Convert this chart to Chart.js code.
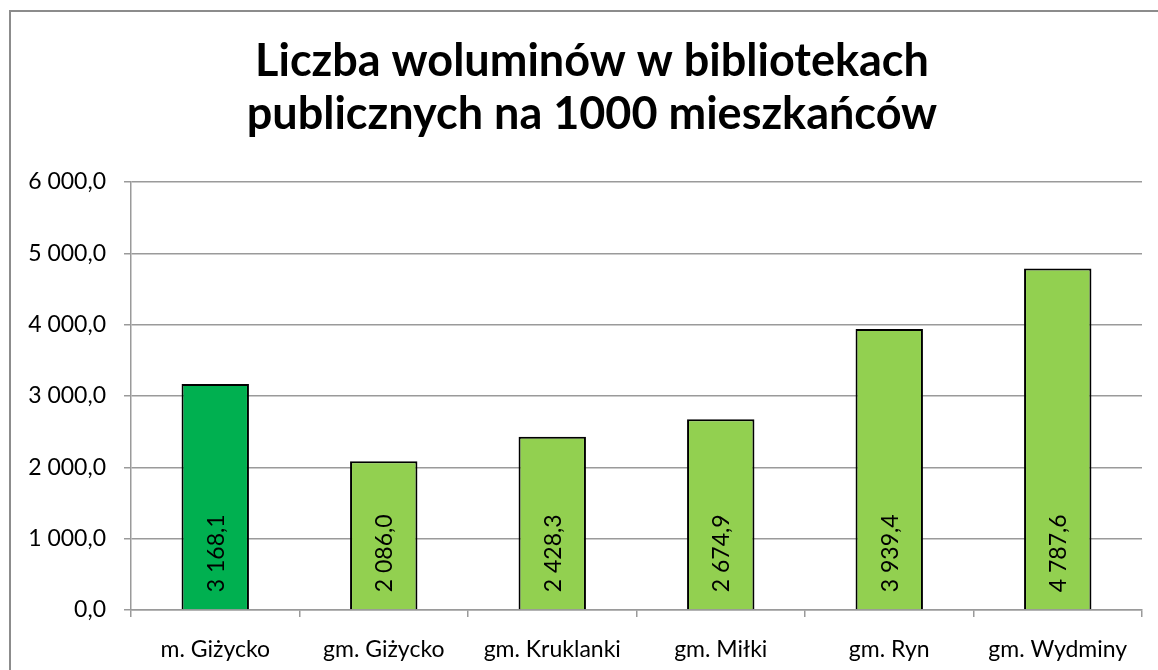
<!DOCTYPE html>
<html>
<head>
<meta charset="utf-8">
<script src="https://cdn.jsdelivr.net/npm/chart.js@4.4.1/dist/chart.umd.min.js"></script>
<style>
	html, body { margin: 0; padding: 0; background: #fff; }
	#wrap { width: 1158px; height: 670px; position: relative; }
	canvas { display: block; }
</style>
</head>
<body>
<div id="wrap"><canvas id="chart" width="1158" height="670"></canvas></div>
<script>
( function () {
	'use strict';

	var titleLines = [ 'Liczba woluminów w bibliotekach', 'publicznych na 1000 mieszkańców' ];
	var categories = [ 'm. Giżycko', 'gm. Giżycko', 'gm. Kruklanki', 'gm. Miłki', 'gm. Ryn', 'gm. Wydminy' ];
	var volumes    = [ 3168.1, 2086.0, 2428.3, 2674.9, 3939.4, 4787.6 ];
	var barColours = [ '#00B050', '#92D050', '#92D050', '#92D050', '#92D050', '#92D050' ];

	var FONT = "Lato, 'Open Sans', sans-serif";

	// "3 168,1" style: space thousands, comma decimal.
	function fmt( v ) {
		var parts = v.toFixed( 1 ).split( '.' );
		return parts[ 0 ].replace( /\B(?=(\d{3})+(?!\d))/g, ' ' ) + ',' + parts[ 1 ];
	}

	// Outer frame of the chart object (cut off at right/bottom).
	var framePlugin = {
		id: 'frame',
		beforeDraw: function ( chart ) {
			var ctx = chart.ctx;
			ctx.save();
			ctx.fillStyle = '#fff';
			ctx.fillRect( 0, 0, chart.width, chart.height );
			ctx.strokeStyle = '#8c8c8c';
			ctx.lineWidth = 2;
			ctx.strokeRect( 10, 11, chart.width + 20, chart.height + 20 );
			ctx.restore();
		},
	};

	// Title, centred on the original chart object rather than the canvas.
	var titlePlugin = {
		id: 'twoLineTitle',
		afterDraw: function ( chart ) {
			var ctx = chart.ctx;
			var baselines = [ 76, 129 ];
			ctx.save();
			ctx.fillStyle = '#000';
			ctx.font = 'bold 45px ' + FONT;
			ctx.textAlign = 'center';
			ctx.textBaseline = 'alphabetic';
			titleLines.forEach( function ( line, i ) {
				ctx.fillText( line, 592, baselines[ i ] );
			} );
			ctx.restore();
		},
	};

	// Vertical value labels at the foot of each bar.
	var valueLabels = {
		id: 'valueLabels',
		afterDatasetsDraw: function ( chart ) {
			var ctx  = chart.ctx;
			var meta = chart.getDatasetMeta( 0 );
			ctx.save();
			ctx.fillStyle = '#000';
			ctx.font = '23px ' + FONT;
			ctx.textAlign = 'left';
			ctx.textBaseline = 'middle';
			meta.data.forEach( function ( bar, i ) {
				ctx.save();
				ctx.translate( bar.x, bar.base - 17 );
				ctx.rotate( -Math.PI / 2 );
				ctx.fillText( fmt( volumes[ i ] ), 0, 1 );
				ctx.restore();
			} );
			ctx.restore();
		},
	};

	new Chart( document.getElementById( 'chart' ), {
		type: 'bar',
		data: {
			labels: categories,
			datasets: [ {
				data:            volumes,
				backgroundColor: barColours,
				borderColor:     '#000',
				borderWidth:     2,
				barPercentage:   0.4,
				categoryPercentage: 1,
			} ],
		},
		options: {
			responsive: false,
			animation:  false,
			layout: {
				padding: { left: 10, right: 16, top: 182, bottom: 0 },
			},
			plugins: {
				legend:  { display: false },
				tooltip: { enabled: false },
				title:   { display: false },
			},
			scales: {
				x: {
					afterFit: function ( scale ) { scale.height = 60; },
					grid: {
						offset:          true,
						drawOnChartArea: false,
						color:           '#9a9a9a',
						lineWidth:       1.5,
						tickLength:      7,
					},
					border: { color: '#9a9a9a', width: 1.5 },
					ticks: {
						color:   '#000',
						padding: 19,
						font:    { family: FONT, size: 23 },
						maxRotation: 0,
						autoSkip: false,
					},
				},
				y: {
					min: 0,
					max: 6000,
					afterFit: function ( scale ) { scale.width = 121; },
					ticks: {
						stepSize: 1000,
						color:    '#000',
						padding:  18,
						font:     { family: FONT, size: 23 },
						callback: function ( v ) { return fmt( v ); },
					},
					grid: {
						color:      '#9a9a9a',
						lineWidth:  1.5,
						tickLength: 7,
					},
					border: { color: '#9a9a9a', width: 1.5 },
				},
			},
		},
		plugins: [ framePlugin, valueLabels, titlePlugin ],
	} );
} )();
</script>
</body>
</html>
